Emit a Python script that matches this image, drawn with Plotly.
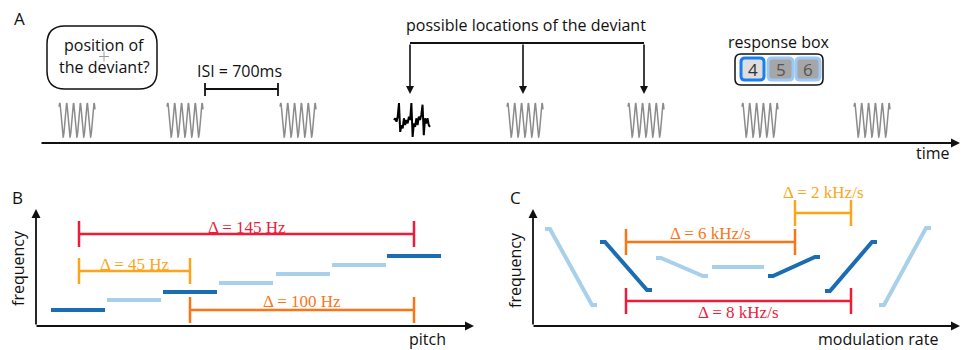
import numpy as np
import plotly.graph_objects as go

W, H = 962, 350
SANS = "Open Sans"
SERIF = "Liberation Serif"

DARK = "#1a6db3"
LIGHT = "#a9d0ea"
RED = "#ec1c3a"
GOLD = "#fda51a"
ORANGE = "#fb7517"
GRAY = "#8c8c8c"

# ---------------- Panel A: trial schematic ----------------
tone_centers = [77, 185, 298, 412, 525, 646, 760, 872]
deviant_index = 3
tone_mid_y = 120
tone_half_h = 17
tone_half_w = 18
tone_cycles = 5
deviant_shape = [0.0, 0.1, -0.1, 0.2, 1.0, -0.7, -0.3, -0.5, 0.1, -0.3, 0.0,
                 -0.2, 0.2, 0.0, 1.0, -1.0, -0.2, -0.4, 0.1, -0.3, 0.2, 0.0,
                 0.3, 0.9, -0.9, 0.1, -0.2, 0.1, -0.3, -0.4]
candidate_indices = [3, 4, 5]
isi_pair = [1, 2]
isi_label = "ISI = 700ms"
buttons = ["4", "5", "6"]

# ---------------- Panel B: pitch steps ----------------
pitch_x_start = [51, 107, 163, 219, 276, 332, 387]
pitch_width = 54
pitch_level = [310, 300, 292, 283, 274, 265, 256]
pitch_dark = [True, False, True, False, False, False, True]
b_brackets = [  # x0, x1, y, label, label_y, colour
    (79, 414, 234, "Δ = 145 Hz", 227, RED),
    (79, 190, 271, "Δ = 45 Hz", 264, GOLD),
    (190, 414, 310, "Δ = 100 Hz", 301, ORANGE),
]

# ---------------- Panel C: FM sweeps ----------------
sweep_x_start = [545, 600, 656, 712, 768, 825, 879]
sweep_y_start = [229, 242, 258, 267, 276, 291, 305]
sweep_y_end = [305, 290, 276, 267, 257, 242, 228]
sweep_dark = [False, True, False, False, True, True, False]
sweep_width = 52
sweep_stub = 5
c_brackets = [
    (626, 795, 242, "Δ = 6 kHz/s", 233, ORANGE),
    (795, 851, 213, "Δ = 2 kHz/s", 192, GOLD),
    (626, 851, 301, "Δ = 8 kHz/s", 312, RED),
]

fig = go.Figure()
annotations = []
shapes = []


def line(xs, ys, color, width, shape="linear"):
    fig.add_trace(go.Scatter(x=xs, y=ys, mode="lines", hoverinfo="skip",
                             line=dict(color=color, width=width, shape=shape),
                             showlegend=False))


def text(x, y, s, size=16, color="#111", font=SANS, angle=0, xanchor="center"):
    annotations.append(dict(x=x, y=y, xref="x", yref="y", text=s, showarrow=False,
                            font=dict(family=font, size=size, color=color),
                            textangle=angle, xanchor=xanchor, yanchor="middle"))


def arrow(x0, y0, x1, y1, width=1.8, head=2, size=1.0):
    annotations.append(dict(x=x1, y=y1, ax=x0, ay=y0, xref="x", yref="y",
                            axref="x", ayref="y", text="", showarrow=True,
                            arrowhead=head, arrowsize=size, arrowwidth=width,
                            arrowcolor="#111"))


def rrect(x0, y0, x1, y1, r, line_color, fill, width):
    p = (f"M {x0+r},{y0} L {x1-r},{y0} Q {x1},{y0} {x1},{y0+r} "
         f"L {x1},{y1-r} Q {x1},{y1} {x1-r},{y1} L {x0+r},{y1} "
         f"Q {x0},{y1} {x0},{y1-r} L {x0},{y0+r} Q {x0},{y0} {x0+r},{y0} Z")
    shapes.append(dict(type="path", path=p, xref="x", yref="y",
                       line=dict(color=line_color, width=width), fillcolor=fill))


def bracket(x0, x1, y, color, half=13, width=2.5):
    line([x0, x1], [y, y], color, width)
    line([x0, x0], [y - half, y + half], color, width)
    line([x1, x1], [y - half, y + half], color, width)


# ---- Panel A ----
text(19, 18, "A", size=17)
t = np.linspace(0, 1, 400)
for i, c in enumerate(tone_centers):
    if i == deviant_index:
        n = len(deviant_shape)
        xs = [c - tone_half_w + k * (2 * tone_half_w) / (n - 1) for k in range(n)]
        ys = [tone_mid_y - tone_half_h * v for v in deviant_shape]
        line(xs, ys, "#000", 2)
    else:
        xs = c - tone_half_w + 2 * tone_half_w * t
        ys = tone_mid_y - tone_half_h * np.sin(2 * np.pi * (tone_cycles + 0.25) * t + 0.9)
        line(xs, ys, GRAY, 1.5)

# time axis
arrow(40, 143, 960, 143, width=2, head=2, size=0.9)
text(933, 153, "time")

# speech bubble
rrect(47, 26, 157, 89, 18, "#111", "rgba(0,0,0,0)", 1.5)
text(104, 45, "position of")
text(104, 67, "the deviant?")
fig.add_trace(go.Scatter(x=[104], y=[56.5], mode="markers", hoverinfo="skip",
                         marker=dict(symbol="cross-thin", size=7,
                                     line=dict(color="#999", width=1)),
                         showlegend=False))

# ISI bracket
x0 = tone_centers[isi_pair[0]] + 20
x1 = tone_centers[isi_pair[1]] - 20
line([x0, x1], [89, 89], "#111", 1.8)
line([x0, x0], [83, 96], "#111", 1.8)
line([x1, x1], [83, 96], "#111", 1.8)
text(239, 71, isi_label)

# candidate deviant locations
cand_x = [tone_centers[i] - 2 for i in candidate_indices]
line([cand_x[0], cand_x[-1]], [43, 43], "#111", 1.8)
for cx in cand_x:
    arrow(cx, 43, cx, 94, width=1.6, head=2, size=1.0)
text(526, 25, "possible locations of the deviant")

# response box
text(779, 42, "response box")
rrect(735, 54, 823, 85, 6, "#111", "rgba(0,0,0,0)", 1.5)
bx = [(741, 764), (768, 793), (796, 820)]
for k, (a, b) in enumerate(bx):
    if k == 0:
        rrect(a, 58, b, 80, 4, "#1a7ef0", "#dedede", 3)
        text((a + b) / 2, 69.5, buttons[k], size=17, color="#333")
    else:
        rrect(a, 58, b, 80, 4, "#9cc8f5", "#a6a6a6", 3)
        text((a + b) / 2, 69.5, buttons[k], size=17, color="#555")

# ---- Panel B ----
text(17, 197, "B", size=17)
arrow(36, 326, 36, 209, width=1.8)
arrow(35, 326, 474, 326, width=1.8)
text(18, 268, "frequency", angle=-90)
text(427, 339, "pitch")
for xs0, lvl, dk in zip(pitch_x_start, pitch_level, pitch_dark):
    line([xs0, xs0 + pitch_width], [lvl, lvl], DARK if dk else LIGHT, 4)
for (a, b, y, lab, ly, col) in b_brackets:
    bracket(a, b, y, col)
    text((a + b) / 2, ly, lab, size=17, color=col, font=SERIF)

# ---- Panel C ----
text(515, 197, "C", size=17)
arrow(533, 326, 533, 209, width=1.8)
arrow(532, 326, 960, 326, width=1.8)
text(515, 270, "frequency", angle=-90)
text(878, 339, "modulation rate")
for xs0, y0, y1, dk in zip(sweep_x_start, sweep_y_start, sweep_y_end, sweep_dark):
    xs = [xs0, xs0 + sweep_stub, xs0 + sweep_width - sweep_stub, xs0 + sweep_width]
    ys = [y0, y0, y1, y1]
    line(xs, ys, DARK if dk else LIGHT, 4)
for (a, b, y, lab, ly, col) in c_brackets:
    bracket(a, b, y, col)
    text((a + b) / 2, ly, lab, size=17, color=col, font=SERIF)

fig.update_layout(
    width=W, height=H, margin=dict(l=0, r=0, t=0, b=0),
    paper_bgcolor="white", plot_bgcolor="white",
    xaxis=dict(range=[0, W], visible=False, fixedrange=True),
    yaxis=dict(range=[H, 0], visible=False, fixedrange=True),
    annotations=annotations, shapes=shapes,
)
fig.write_html("out.html")
